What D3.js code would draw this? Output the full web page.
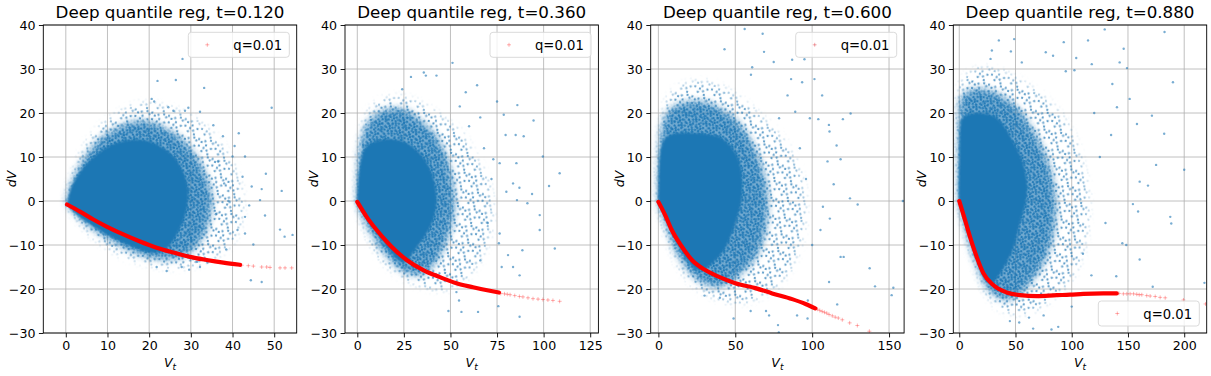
<!DOCTYPE html>
<html>
<head>
<meta charset="utf-8">
<script src="https://cdn.jsdelivr.net/npm/d3@7/dist/d3.min.js"></script>
<style>
  html, body { margin: 0; padding: 0; background: #fff; }
  svg { display: block; font-family: "DejaVu Sans", sans-serif; }
</style>
</head>
<body>
<svg id="chart" width="1211" height="376"></svg>
<script>
// ---- data (Vt, dV) ----
var titles = ["Deep quantile reg, t=0.120", "Deep quantile reg, t=0.360", "Deep quantile reg, t=0.600", "Deep quantile reg, t=0.880"];
var yTicks = [-30, -20, -10, 0, 10, 20, 30, 40];
var xTicks1 = [0, 10, 20, 30, 40, 50];
var xTicks2 = [0, 25, 50, 75, 100, 125];
var xTicks3 = [0, 50, 100, 150];
var xTicks4 = [0, 50, 100, 150, 200];
var legendLabel = "q=0.01";

// dense core of the blue cloud (outline)
var core1 = [[0.4,-0.5],[0.8,1.5],[1.5,3.5],[3,6],[5,8.5],[8,11],[11,12.8],[15,13.8],[19,13.8],[23,12.3],[26,10],[28,7],[29.3,3],[29,-2],[27,-7],[24.5,-10.5],[21,-11.8],[17,-10.8],[13,-9.2],[9,-7.2],[5,-4.8],[2.5,-3],[0.8,-1.2]];
var core2 = [[0,-0.3],[0.2,3],[0.8,6.5],[2,9.5],[4,12],[8,13.3],[14,14],[20,14],[26,13.3],[32,11.5],[37,9],[41,5],[42.5,0],[41,-4],[37,-7.5],[31,-11],[26,-13.8],[22,-13.5],[17,-11],[12,-8.3],[7,-5.3],[3,-2.5],[0.8,-0.8]];
var core3 = [[0,-0.3],[0.1,4],[0.6,9],[2,12.5],[5,14.5],[10,15.3],[20,15.5],[30,15.3],[40,14.5],[47,12.5],[52,9.5],[54.5,5],[54,0],[51,-4],[47,-8],[43,-11],[37,-13.5],[30,-15.5],[24,-15.5],[19,-13.5],[14,-10.8],[9,-7.5],[5,-4.5],[2,-2],[0.5,-0.6]];
var core4 = [[0,-0.3],[0,10],[0.5,16],[2,18.5],[6,19.5],[15,20],[25,19.8],[33,19],[40,17],[47,14],[53,11],[58,7.5],[60.5,3],[58.5,-1],[55,-4],[51,-8],[47,-11.5],[41,-14.5],[35,-17],[28,-19],[22,-17.5],[16,-13.5],[11,-9.5],[6,-5.5],[2.5,-2.3],[0.5,-0.4]];

// thick speckled zone round the core
var halo1 = [[0.3,0],[1,3],[2.5,6.5],[5,10.5],[8,14],[12,16.5],[16,18],[20,18],[24,16.5],[28,14],[31,10.5],[33.5,6],[35,1],[34.5,-4],[33,-8],[30,-11.5],[27,-13],[23,-13.2],[19,-12.5],[15,-11],[10,-8.5],[6,-6],[3,-3.5],[1,-1.5]];
var halo2 = [[0,0],[0.3,6],[1.5,12],[4,16.5],[8,19],[14,20.5],[20,21],[27,20.5],[33,18.5],[40,16],[46,12],[50,7],[52,1],[51,-5],[47,-10],[42,-14],[36,-16.5],[30,-16.8],[24,-15.8],[18,-13.5],[12,-10.5],[7,-7],[3,-4],[1,-1.5]];
var halo3 = [[0,0],[0.2,8],[1.5,15],[4,19],[10,21.5],[20,22.5],[30,22.5],[40,21],[50,18.5],[58,15],[65,10],[70,4],[71,-3],[68,-9],[62,-13.5],[55,-16],[47,-18.5],[38,-19.5],[28,-18.5],[20,-16],[13,-12.5],[8,-8.5],[4,-4.5],[1,-1.5]];
var halo4 = [[0,0],[0,20],[1,23],[5,24.5],[15,25.5],[28,25],[40,23.5],[52,21],[62,17.5],[72,13],[80,8],[85,2],[85,-5],[80,-11],[72,-15.5],[62,-19],[52,-21.5],[42,-22.5],[32,-21.5],[24,-19.5],[17,-15.5],[10,-10.5],[5,-6],[1.5,-2]];

// thin speckled fringe
var fringe1 = [[0.3,0],[1.5,5],[4,11],[8,16.5],[13,20],[18,22],[23,21.5],[28,20],[33,17],[37,13],[40,8],[42,2],[42,-4],[40,-9],[36,-12.5],[31,-14.5],[25,-15],[19,-14],[13,-12],[8,-9],[4,-5.5],[1,-2]];
var fringe2 = [[0,0],[0.5,9],[2,15],[6,20],[12,22.5],[20,23.5],[28,23],[36,21.5],[45,19],[55,15.5],[63,10],[70,4],[72,-3],[69,-10],[63,-15],[55,-18.5],[46,-20],[37,-19.5],[28,-18],[20,-16],[12,-12.5],[6,-8],[2,-3.5]];
var fringe3 = [[0,0],[0.5,12],[3,19],[8,24],[18,26.5],[30,27],[42,25.5],[55,22.5],[68,18.5],[80,14],[90,8],[95,0],[93,-8],[86,-15],[76,-19.5],[64,-22],[50,-23],[38,-22],[27,-20],[18,-17],[10,-12],[4,-6],[1,-2]];
var fringe4 = [[0,0],[0,24],[3,27],[12,29.5],[25,30],[40,29],[55,27],[72,24],[88,20],[102,14],[110,7],[114,0],[112,-8],[106,-14],[96,-18.5],[82,-22],[68,-24.5],[52,-25.5],[38,-24.5],[26,-21.5],[16,-16],[8,-9],[2,-3]];

// single stray points
var outliers1 = [[28,32.3],[22,27.3],[26.4,27.5],[33.2,25.7],[20.6,23.2],[21.2,22.6],[49.4,21.2],[24.6,21.3],[25.8,20.5],[28.6,20.5],[29.4,21.2],[32.2,20.3],[41.5,15.4],[35.4,17.2],[37.7,14.7],[40,10.1],[43,10.1],[42.4,5.5],[48,6.2],[47,2.7],[51.8,2.3],[44.6,3.3],[46.6,0.2],[43,-3.6],[47.8,-3.3],[51.4,-6.5],[54.4,-7.7],[52.5,-8.1],[45,-9.9],[43,-7.4],[41.2,-6.6],[21.8,-15],[24.2,-15.9],[27.8,-15],[29.6,-15.6],[32.2,-15],[44.4,-18],[47,-18.4],[38.5,-11],[36,-3],[39,0],[38,4],[44,-1],[36.5,9],[40.5,12.5],[34,-14],[31.5,-13.8]];
var outliers2 = [[51.1,31.4],[35.7,29.2],[36.8,28.5],[28.8,28.2],[42.5,28.5],[24.1,25.4],[64.3,26.3],[58.2,24.7],[85.9,21.8],[94.6,18.3],[99.6,10.1],[75,22.6],[78.6,19.6],[79.6,15],[85,15],[89.3,14.7],[108.6,6.3],[102.9,3.4],[3.2,12.8],[76.4,8.6],[85.4,8.6],[83.6,4],[80,2.1],[87,3],[93.8,1.6],[85.7,0.2],[91.3,-0.5],[97.9,-3.2],[97.9,-6.6],[106,-10.8],[76.4,-7.4],[76,-9.6],[80.9,-12.3],[88.6,-11.2],[83.6,-15],[77.5,-15],[87.1,-16.9],[54.6,-22.6],[48.9,-25],[55.9,-25.2],[64.8,-25.2],[75.7,-23.9],[87.1,-26.3],[53.2,-20.7],[66,-13.5],[70,-5],[72,5],[68,12],[60,17],[55,21.5],[66,19],[73,9.5]];
var outliers3 = [[56.1,39.1],[67.8,38],[43,34.5],[68.7,33.9],[75,31.6],[87,32.1],[95,32.2],[101.7,35.5],[93.5,27],[101.5,27.7],[86.3,27.7],[60.2,28.7],[61,30.4],[106.5,24],[125,19.9],[120,18.6],[78.5,18.8],[89,20.3],[98.5,18.8],[104,18.6],[110.9,17.3],[111.3,15.8],[115.9,12.6],[110,9],[118.5,9.5],[114,3.8],[124.6,0.6],[129.6,-0.8],[159,0],[107,-1.3],[111.5,-4],[105.4,-6.6],[118.5,-12.7],[120.5,-12.7],[137.4,-15.3],[140.9,-19.4],[152.8,-19.7],[151.7,-21.4],[111,-18.4],[116.3,-23.5],[78.3,-29.9],[48.9,-26.7],[77.8,-28.2],[70,-25],[72,-26],[90.2,-26],[97,-26.7],[97.2,-22.6],[100,-10],[96,5],[92,12],[84,24],[40,-22],[30,-21.5],[60,-25]];
var outliers4 = [[129.3,39],[182.5,38.4],[35.2,36.5],[48.8,36.8],[92.9,36.1],[114.5,36.5],[146.2,34.6],[76.9,33.8],[83.4,33],[29,34.2],[45.9,34],[104,32.5],[27.8,32.3],[55.6,31.5],[117.8,31.1],[142.6,31.5],[149.1,30.2],[190,27],[94.7,29.5],[102.4,29.7],[136.1,26.6],[151.5,23.2],[140.2,21.3],[171.3,19.4],[182.2,15.3],[158,17.5],[200,7.1],[175,8.2],[167.8,3.5],[160.4,4.4],[154.4,-0.7],[159,-2.4],[187.6,-3.6],[188.5,-5.1],[145,-9.6],[148.5,-10],[160.4,-13.3],[172,-19.5],[218,-18.6],[45,-27.3],[53.3,-27.6],[65.7,-29],[82,-29.2],[88,-28.6],[62,-26.5],[117.5,-16.9],[139.6,-17.1],[125,10],[130,-5],[120,20],[135,15],[110,-12],[100,-24],[75,-26]];

// q=0.01 quantile curve: dense part and the sparse faded tail
var quant1 = [[0.3,-0.8],[3.4,-2.4],[6.6,-4.2],[9.8,-5.8],[13.8,-7.6],[17.8,-9.2],[21.8,-10.6],[25.8,-11.7],[29.8,-12.7],[33.8,-13.4],[37.8,-14.0],[41.8,-14.5]];
var tail1 = [[42.2,-14.6],[43.8,-14.7],[45,-14.8],[47,-15],[48.2,-15],[49,-15.1],[51.4,-15.2],[52.6,-15.2],[54.2,-15.2]];
var quant2 = [[0,-0.2],[5,-3.6],[10.4,-6.6],[15.7,-9.2],[21.1,-11.5],[26.5,-13.4],[35.4,-15.7],[44.3,-17.3],[53.2,-18.7],[62.1,-19.6],[71.1,-20.4],[76,-20.8]];
var tail2 = [[77,-21],[79,-21.1],[80.5,-21.2],[82,-21.3],[84.5,-21.5],[87,-21.7],[88.9,-21.8],[91.6,-22],[94.3,-22.2],[97,-22.3],[99.6,-22.4],[102.3,-22.5],[105,-22.6],[108.6,-22.8]];
var quant3 = [[0,-0.2],[4.4,-3.2],[8.7,-6.6],[15.3,-10.4],[21.8,-13.4],[30.5,-15.7],[39.1,-17.2],[50,-18.7],[63.1,-19.8],[74,-21],[87,-22.3],[95.7,-23.4],[102,-24.4]];
var tail3 = [[103.5,-24.6],[105,-24.9],[106.5,-25.1],[108,-25.3],[109.5,-25.5],[111,-25.8],[113.1,-26.1],[115,-26.4],[117,-26.6],[119.6,-27],[124.4,-27.7],[129.4,-28.3],[137.2,-29.6]];
var quant4 = [[0,0],[5.1,-4.3],[9.5,-8.1],[15.5,-12.7],[21.4,-16.4],[30.2,-19.1],[42.2,-20.8],[54,-21.4],[68.9,-21.6],[86.7,-21.4],[98.5,-21.3],[110.3,-21.1],[128.1,-21],[140,-21]];
var tail4 = [[142,-21],[145.9,-21.1],[149,-21.1],[151.9,-21.1],[155,-21.1],[157.8,-21.2],[160,-21.3],[162.3,-21.3],[166.7,-21.5],[169.7,-21.6],[174.2,-21.7],[178.6,-21.9],[183.1,-22],[199.3,-22.5],[219,-23.4]];

// ---- layout ----
var panels = [
    {left: 43.3, xDomain: [-5.4, 55.4], xTicks: xTicks1, core: core1, halo: halo1, fringe: fringe1, outliers: outliers1, quant: quant1, tail: tail1, legend: "top"},
    {left: 345, xDomain: [-6.6, 129.4], xTicks: xTicks2, core: core2, halo: halo2, fringe: fringe2, outliers: outliers2, quant: quant2, tail: tail2, legend: "top"},
    {left: 650.7, xDomain: [-5, 159.8], xTicks: xTicks3, core: core3, halo: halo3, fringe: fringe3, outliers: outliers3, quant: quant3, tail: tail3, legend: "top"},
    {left: 953.3, xDomain: [-5.3, 220], xTicks: xTicks4, core: core4, halo: halo4, fringe: fringe4, outliers: outliers4, quant: quant4, tail: tail4, legend: "bottom"}
];
var plotW = 253.4, plotTop = 25, plotBottom = 333;
var blue = "#1f77b4";

var svg = d3.select("#chart");
var defs = svg.append("defs");

// speckle textures for the scattered zones (fixed dot layouts, style only)
var dense = defs.append("pattern").attr("id", "speckleDense")
    .attr("patternUnits", "userSpaceOnUse").attr("width", 11).attr("height", 11).attr("patternTransform", "rotate(23)");
dense.append("rect").attr("width", 11).attr("height", 11).attr("fill", blue).attr("fill-opacity", 0.62);
[[1, 1.5], [4.5, 0.8], [8.5, 2], [2.8, 4.2], [6.5, 4.8], [10, 6], [0.8, 7.5], [4.2, 8.2], [7.8, 9.5], [9.5, 10.2], [5.5, 2.8], [2, 10]].forEach(function (p) {
    dense.append("circle").attr("cx", p[0]).attr("cy", p[1]).attr("r", 1.2).attr("fill", blue).attr("fill-opacity", 0.95);
});
var sparse = defs.append("pattern").attr("id", "speckleSparse")
    .attr("patternUnits", "userSpaceOnUse").attr("width", 17).attr("height", 17).attr("patternTransform", "rotate(11)");
[[2, 3], [9, 1.5], [14.5, 4], [5.5, 8], [12, 10], [1, 13.5], [7.5, 14.5], [15.5, 15.5], [10.5, 6.5], [4, 16], [13, 13], [7, 4.5]].forEach(function (p) {
    sparse.append("circle").attr("cx", p[0]).attr("cy", p[1]).attr("r", 1.15).attr("fill", blue).attr("fill-opacity", 0.7);
});
var soft = defs.append("filter").attr("id", "soft").attr("x", "-10%").attr("y", "-10%").attr("width", "120%").attr("height", "120%");
soft.append("feGaussianBlur").attr("stdDeviation", 1.3);
var feather = defs.append("filter").attr("id", "feather").attr("x", "-20%").attr("y", "-20%").attr("width", "140%").attr("height", "140%");
feather.append("feGaussianBlur").attr("stdDeviation", 3.5);

var fmt = function (d) { return d < 0 ? "\u2212" + Math.abs(d) : String(d); };
var plus = "M-2,0H2M0,-2V2";

panels.forEach(function (p, i) {
    var x = d3.scaleLinear().domain(p.xDomain).range([p.left, p.left + plotW]);
    var y = d3.scaleLinear().domain([-30, 40]).range([plotBottom, plotTop]);
    var g = svg.append("g");

    defs.append("clipPath").attr("id", "clip" + i)
        .append("rect").attr("x", p.left).attr("y", plotTop).attr("width", plotW).attr("height", plotBottom - plotTop);

    var outline = d3.line().x(function (d) { return x(d[0]); }).y(function (d) { return y(d[1]); })
        .curve(d3.curveCatmullRomClosed.alpha(0.5));

    // soft-edged masks for the speckled zones
    ["fringe", "halo"].forEach(function (k) {
        defs.append("mask").attr("id", k + "Mask" + i)
            .attr("maskUnits", "userSpaceOnUse").attr("x", p.left).attr("y", plotTop).attr("width", plotW).attr("height", plotBottom - plotTop)
            .append("path").attr("d", outline(p[k])).attr("fill", "#fff").attr("filter", "url(#feather)");
    });

    // grid
    g.append("g").selectAll("line").data(p.xTicks).join("line")
        .attr("x1", function (d) { return x(d); }).attr("x2", function (d) { return x(d); })
        .attr("y1", plotTop).attr("y2", plotBottom)
        .attr("stroke", "#b0b0b0").attr("stroke-width", 0.8);
    g.append("g").selectAll("line").data(yTicks).join("line")
        .attr("x1", p.left).attr("x2", p.left + plotW)
        .attr("y1", function (d) { return y(d); }).attr("y2", function (d) { return y(d); })
        .attr("stroke", "#b0b0b0").attr("stroke-width", 0.8);

    var plot = g.append("g").attr("clip-path", "url(#clip" + i + ")");

    plot.append("rect").attr("x", p.left).attr("y", plotTop).attr("width", plotW).attr("height", plotBottom - plotTop)
        .attr("fill", "url(#speckleSparse)").attr("mask", "url(#fringeMask" + i + ")");
    plot.append("rect").attr("x", p.left).attr("y", plotTop).attr("width", plotW).attr("height", plotBottom - plotTop)
        .attr("fill", "url(#speckleDense)").attr("mask", "url(#haloMask" + i + ")");
    plot.append("path").attr("d", outline(p.core)).attr("fill", blue).attr("filter", "url(#soft)");

    plot.append("g").selectAll("circle").data(p.outliers).join("circle")
        .attr("cx", function (d) { return x(d[0]); }).attr("cy", function (d) { return y(d[1]); })
        .attr("r", 1.2).attr("fill", blue).attr("fill-opacity", 0.6);

    // quantile curve
    var qline = d3.line().x(function (d) { return x(d[0]); }).y(function (d) { return y(d[1]); })
        .curve(d3.curveMonotoneX);
    plot.append("path").attr("d", qline(p.quant))
        .attr("fill", "none").attr("stroke", "red").attr("stroke-width", 4.2).attr("stroke-linecap", "round");
    plot.append("g").selectAll("path").data(p.tail).join("path")
        .attr("transform", function (d) { return "translate(" + x(d[0]) + "," + y(d[1]) + ")"; })
        .attr("d", plus).attr("fill", "none").attr("stroke", "red").attr("stroke-opacity", 0.3).attr("stroke-width", 1);

    // frame
    g.append("rect").attr("x", p.left).attr("y", plotTop).attr("width", plotW).attr("height", plotBottom - plotTop)
        .attr("fill", "none").attr("stroke", "#000").attr("stroke-width", 0.9);

    // axes
    var xa = g.append("g").attr("transform", "translate(0," + plotBottom + ")")
        .call(d3.axisBottom(x).tickValues(p.xTicks).tickFormat(fmt).tickSize(4.4).tickPadding(3.5));
    var ya = g.append("g").attr("transform", "translate(" + p.left + ",0)")
        .call(d3.axisLeft(y).tickValues(yTicks).tickFormat(fmt).tickSize(4.4).tickPadding(3.5));
    [xa, ya].forEach(function (a) {
        a.select(".domain").remove();
        a.selectAll(".tick line").attr("stroke", "#000").attr("stroke-width", 0.9);
        a.selectAll(".tick text").attr("fill", "#000").style("font-size", "12.6px").style("font-family", "DejaVu Sans");
    });

    // title and labels
    var cx = p.left + plotW / 2;
    g.append("text").attr("x", cx).attr("y", 18).attr("text-anchor", "middle")
        .style("font-size", "16.7px").text(titles[i]);
    var xl = g.append("text").attr("x", cx).attr("y", 367).attr("text-anchor", "middle")
        .style("font-size", "12.6px").style("font-style", "italic");
    xl.append("tspan").text("V");
    xl.append("tspan").attr("dy", 3).style("font-size", "9px").text("t");
    g.append("text").attr("transform", "translate(" + (p.left - 27) + "," + ((plotTop + plotBottom) / 2) + ") rotate(-90)")
        .attr("text-anchor", "middle").style("font-size", "12.6px").style("font-style", "italic").text("dV");

    // legend
    var lw = 101, lh = 25;
    var lx = p.left + plotW - 7.4 - lw;
    var ly = p.legend === "top" ? plotTop + 7.3 : plotBottom - 7 - lh;
    var lg = g.append("g").attr("transform", "translate(" + lx + "," + ly + ")");
    lg.append("rect").attr("width", lw).attr("height", lh).attr("rx", 3)
        .attr("fill", "#fff").attr("fill-opacity", 0.8).attr("stroke", "#d6d6d6").attr("stroke-width", 0.9);
    lg.append("path").attr("transform", "translate(19," + (lh / 2) + ")").attr("d", plus)
        .attr("fill", "none").attr("stroke", "red").attr("stroke-opacity", 0.3).attr("stroke-width", 1);
    lg.append("text").attr("x", 45).attr("y", lh / 2 + 5).style("font-size", "13.2px").text(legendLabel);
});
</script>
</body>
</html>
